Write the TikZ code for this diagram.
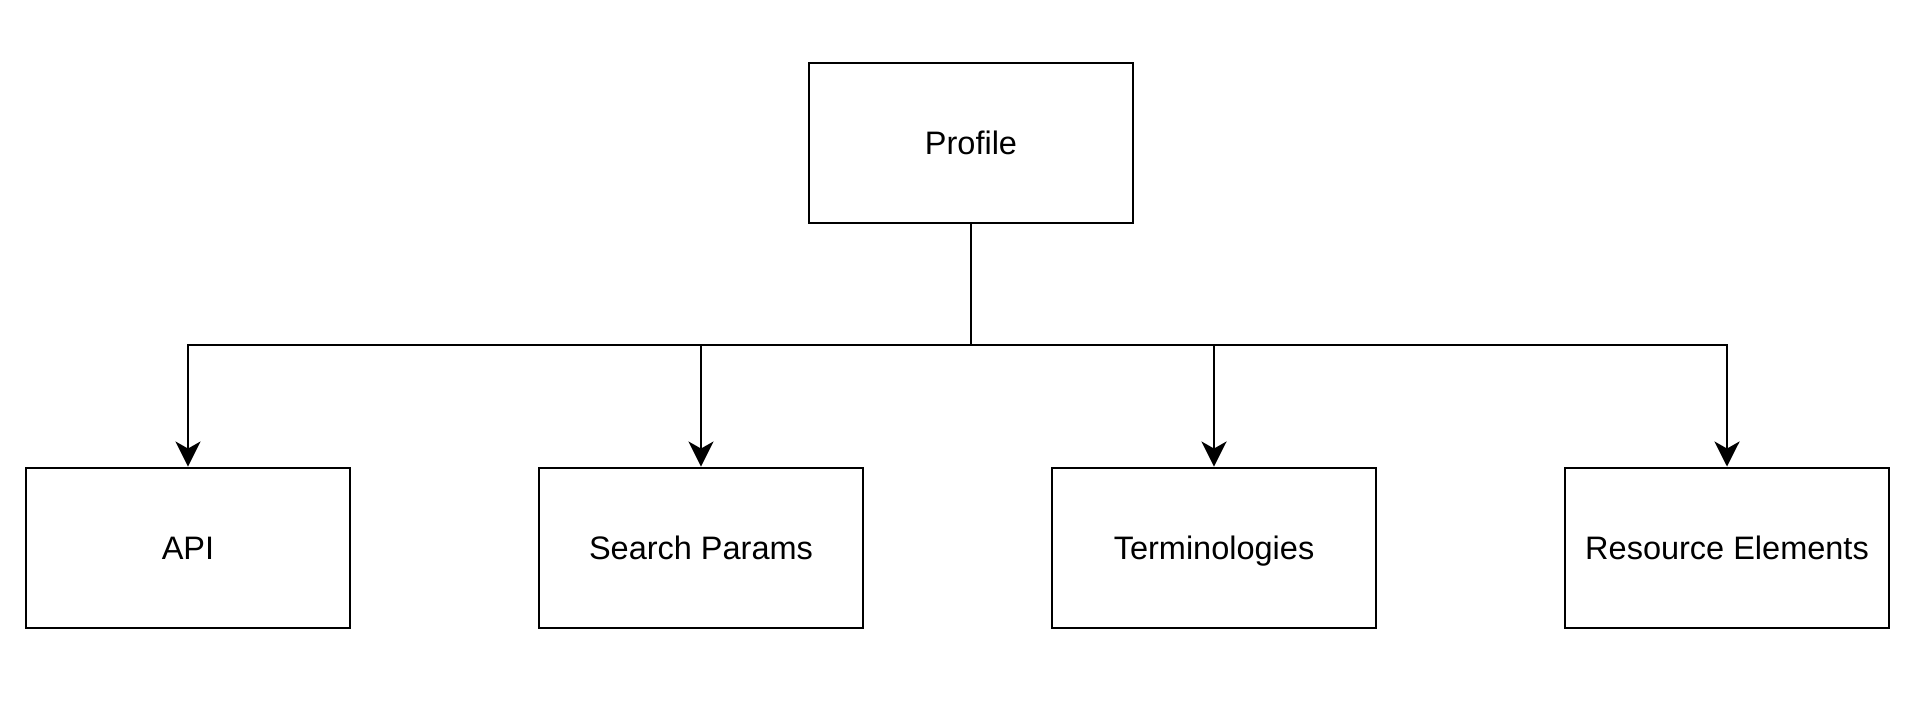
\documentclass[tikz,border=0pt]{standalone}
\usepackage{fontspec}
\setmainfont{Liberation Sans}
\usetikzlibrary{arrows.meta}
\begin{document}
\begin{tikzpicture}[x=1pt,y=-1pt,
  box/.style={draw=black, line width=2.9pt, minimum width=324pt, minimum height=160pt, inner sep=0pt, text height=23pt, text depth=0pt, font=\fontsize{32.5}{38}\selectfont},
  conn/.style={line width=2.9pt, -{Stealth[length=25pt,width=25pt,inset=7pt]}},
  plain/.style={line width=2.9pt}]
\useasboundingbox (0,0) rectangle (1916,706);
\node[box] (profile) at (971,143) {Profile};
\node[box] (api) at (188,548) {API};
\node[box] (sp) at (701,548) {Search Params};
\node[box] (term) at (1214,548) {Terminologies};
\node[box] (res) at (1727,548) {Resource Elements};
\coordinate (j) at (971,345);
\draw[plain] (profile.south) -- (j);
\draw[conn] (j) -| (api.north);
\draw[conn] (j) -| (sp.north);
\draw[conn] (j) -| (term.north);
\draw[conn] (j) -| (res.north);
\end{tikzpicture}
\end{document}
